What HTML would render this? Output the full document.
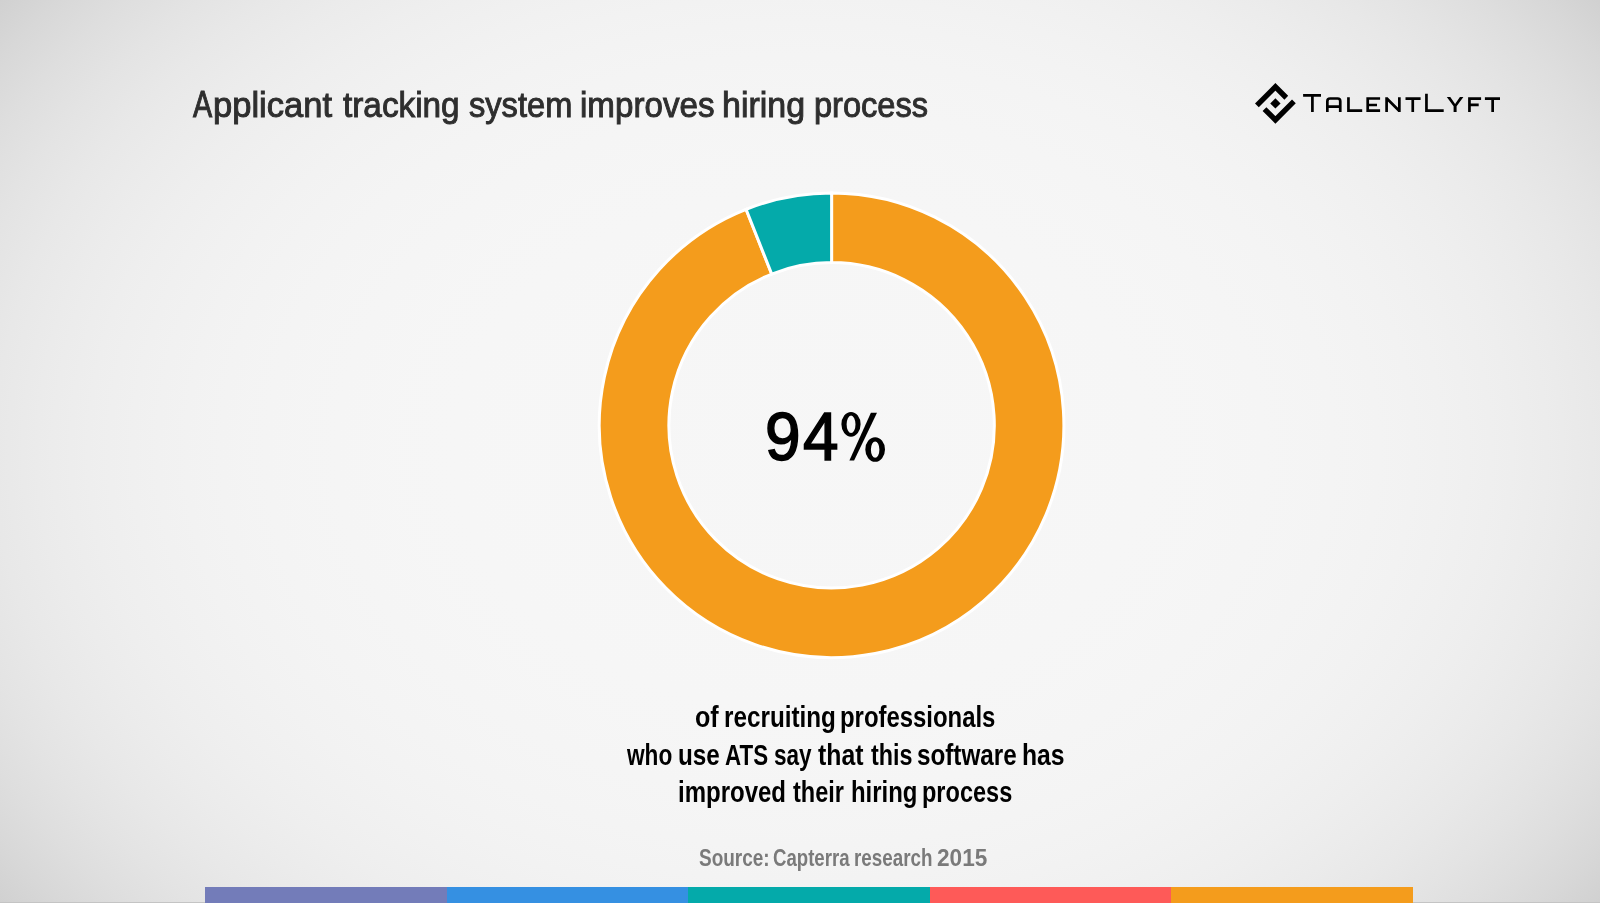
<!DOCTYPE html>
<html><head><meta charset="utf-8">
<style>
html,body{margin:0;padding:0;}
body{width:1600px;height:903px;overflow:hidden;position:relative;
background:radial-gradient(ellipse 1009px 749.5px at 800px 451.5px,rgb(246.4,246.4,246.4) 0%,rgb(246.2,246.2,246.2) 30%,rgb(245.7,245.7,245.7) 40%,rgb(244.5,244.5,244.5) 50%,rgb(243.6,243.6,243.6) 55%,rgb(242.3,242.3,242.3) 60%,rgb(240.5,240.5,240.5) 65%,rgb(238.3,238.3,238.3) 70%,rgb(235.4,235.4,235.4) 75%,rgb(231.9,231.9,231.9) 80%,rgb(227.5,227.5,227.5) 85%,rgb(222.1,222.1,222.1) 90%,rgb(215.7,215.7,215.7) 95%,rgb(208.0,208.0,208.0) 100%);
font-family:"Liberation Sans",sans-serif;}
.t{position:absolute;white-space:nowrap;line-height:1;filter:grayscale(1);}
.t span{display:inline-block;transform-origin:0 0;}
.title{font-size:36.5px;color:#2e2e2e;-webkit-text-stroke:1px #2e2e2e;}
.title span{transform-origin:0 31px;}
.pct{font-size:69px;color:#000;-webkit-text-stroke:1.6px #000;}
.sub{font-size:29.5px;color:#000;font-weight:bold;}
.src{font-size:24px;color:#7a7a7a;font-weight:bold;}
svg{position:absolute;left:0;top:0;}
</style></head><body>
<svg width="1600" height="903" viewBox="0 0 1600 903">
  <!-- donut -->
  <g stroke="#ffffff" stroke-width="3" stroke-linejoin="miter">
    <path id="orange" fill="#f49c1c" d="M831.60,193.00 A232.3,232.3 0 1 1 746.08,209.31 L771.71,274.03 A162.7,162.7 0 1 0 831.60,262.60 Z"/>
    <path id="teal" fill="#04aaaa" d="M746.08,209.31 A232.3,232.3 0 0 1 831.60,193.00 L831.60,262.60 A162.7,162.7 0 0 0 771.71,274.03 Z"/>
  </g>
  <!-- logo icon -->
  <g fill="none" stroke="#000" stroke-width="5.35" stroke-linejoin="miter" stroke-linecap="butt">
    <path d="M1256.9,105.35 L1275.4,86.85 L1286.3,97.75"/>
    <path d="M1264.5,109.05 L1275.4,119.95 L1293.9,101.45"/>
  </g>
  <path fill="#000" d="M1275.4,98.2 L1280.58,103.4 L1275.4,108.58 L1270.22,103.4 Z"/>
  <!-- logo letters -->
  <g fill="none" stroke="#000" stroke-width="2.7" stroke-linejoin="miter" stroke-linecap="butt">
    <path d="M1303.1,95.4 H1321 M1312.4,95.4 V112.06"/>
    <path d="M1327.35,112.06 V101.2 Q1327.35,98.5 1330.05,98.5 H1337.55 Q1340.25,98.5 1340.25,101.2 V112.06 M1327.35,106.55 H1340.25"/>
    <path d="M1348.45,97.14 V110.71 H1362.2"/>
    <path d="M1380.1,98.5 H1367.7 V110.7 H1380.1 M1367.7,105 H1377"/>
    <path d="M1386.6,112.06 V97.14 M1386.6,98.2 L1399.35,111 M1399.35,97.14 V112.06" stroke-linejoin="bevel"/>
    <path d="M1405.5,98.63 H1420.6 M1412.75,98.63 V112.06"/>
    <path d="M1426.45,93.84 V110.71 H1443.7"/>
    <path d="M1469.45,112.06 V98.63 H1481.1 M1469.45,104.85 H1478.7"/>
    <path d="M1484.9,98.63 H1500 M1492.65,98.63 V112.06"/>
  </g>
  <!-- percent sign -->
  <g fill="#000" fill-rule="evenodd">
    <path d="M841.4,424.3 a9.6,12.4 0 1,0 19.2,0 a9.6,12.4 0 1,0 -19.2,0 Z M846.6,424.3 a4.45,8.7 0 1,0 8.9,0 a4.45,8.7 0 1,0 -8.9,0 Z"/>
    <path d="M865.3,449.5 a9.85,12.3 0 1,0 19.7,0 a9.85,12.3 0 1,0 -19.7,0 Z M870.9,449.6 a4.25,8.2 0 1,0 8.5,0 a4.25,8.2 0 1,0 -8.5,0 Z"/>
    <path d="M870.9,412.8 L877.0,412.8 L854.1,460.6 L849.4,460.6 Z"/>
  </g>
  <rect x="0" y="902" width="1600" height="1" fill="#c4c4c4"/>
  <path fill="#000" d="M1446.8,97.1 L1450.3,97.1 L1455.1,103.9 L1459.9,97.1 L1463.4,97.1 L1456.6,106.2 L1456.6,112.1 L1453.6,112.1 L1453.6,106.2 Z"/>
  <!-- bottom bars -->
  <rect x="205" y="887" width="242" height="16" fill="#737cb9"/>
  <rect x="447" y="887" width="241" height="16" fill="#3590e2"/>
  <rect x="688" y="887" width="242" height="16" fill="#04aaaa"/>
  <rect x="930" y="887" width="241" height="16" fill="#fe5a58"/>
  <rect x="1171" y="887" width="242" height="16" fill="#f49c1c"/>
</svg>
<div class="t title" style="left:193.00px;top:87.20px"><span style="transform:scale(0.7880,1.027)">A</span></div>
<div class="t title" style="left:213.31px;top:87.20px"><span style="transform:scale(0.9460,0.975)">pplicant</span></div>
<div class="t title" style="left:342.50px;top:87.20px"><span style="transform:scale(0.9127,0.975)">tracking</span></div>
<div class="t title" style="left:469.11px;top:87.20px"><span style="transform:scale(0.8938,0.975)">system</span></div>
<div class="t title" style="left:580.18px;top:87.20px"><span style="transform:scale(0.9086,0.975)">improves</span></div>
<div class="t title" style="left:721.89px;top:87.20px"><span style="transform:scale(0.9302,0.975)">hiring</span></div>
<div class="t title" style="left:814.47px;top:87.20px"><span style="transform:scale(0.8924,0.975)">process</span></div>
<div class="t sub" style="left:695.35px;top:701.70px"><span style="transform:scaleX(0.8519)">of</span></div>
<div class="t sub" style="left:723.95px;top:701.70px"><span style="transform:scaleX(0.8227)">recruiting</span></div>
<div class="t sub" style="left:839.78px;top:701.70px"><span style="transform:scaleX(0.8101)">professionals</span></div>
<div class="t sub" style="left:626.50px;top:739.90px"><span style="transform:scaleX(0.7672)">who</span></div>
<div class="t sub" style="left:678.05px;top:739.90px"><span style="transform:scaleX(0.8229)">use</span></div>
<div class="t sub" style="left:724.84px;top:739.90px"><span style="transform:scaleX(0.7582)">ATS</span></div>
<div class="t sub" style="left:773.74px;top:739.90px"><span style="transform:scaleX(0.7646)">say</span></div>
<div class="t sub" style="left:817.60px;top:739.90px"><span style="transform:scaleX(0.8407)">that</span></div>
<div class="t sub" style="left:870.90px;top:739.90px"><span style="transform:scaleX(0.7902)">this</span></div>
<div class="t sub" style="left:917.48px;top:739.90px"><span style="transform:scaleX(0.8218)">software</span></div>
<div class="t sub" style="left:1022.33px;top:739.90px"><span style="transform:scaleX(0.8375)">has</span></div>
<div class="t sub" style="left:678.07px;top:776.80px"><span style="transform:scaleX(0.8132)">improved</span></div>
<div class="t sub" style="left:792.50px;top:776.80px"><span style="transform:scaleX(0.7969)">their</span></div>
<div class="t sub" style="left:850.58px;top:776.80px"><span style="transform:scaleX(0.8115)">hiring</span></div>
<div class="t sub" style="left:921.81px;top:776.80px"><span style="transform:scaleX(0.7973)">process</span></div>
<div class="t src" style="left:699.21px;top:845.75px"><span style="transform:scaleX(0.7907)">Source:</span></div>
<div class="t src" style="left:773.22px;top:845.75px"><span style="transform:scaleX(0.7755)">Capterra</span></div>
<div class="t src" style="left:854.43px;top:845.75px"><span style="transform:scaleX(0.7835)">research</span></div>
<div class="t src" style="left:937.06px;top:845.75px"><span style="transform:scaleX(0.9423)">2015</span></div>
<div class="t pct" style="left:765.45px;top:401.80px"><span style="transform:scaleX(0.9265)">9</span></div>
<div class="t pct" style="left:802.98px;top:401.80px"><span style="transform:scaleX(0.9250)">4</span></div>
</body></html>
